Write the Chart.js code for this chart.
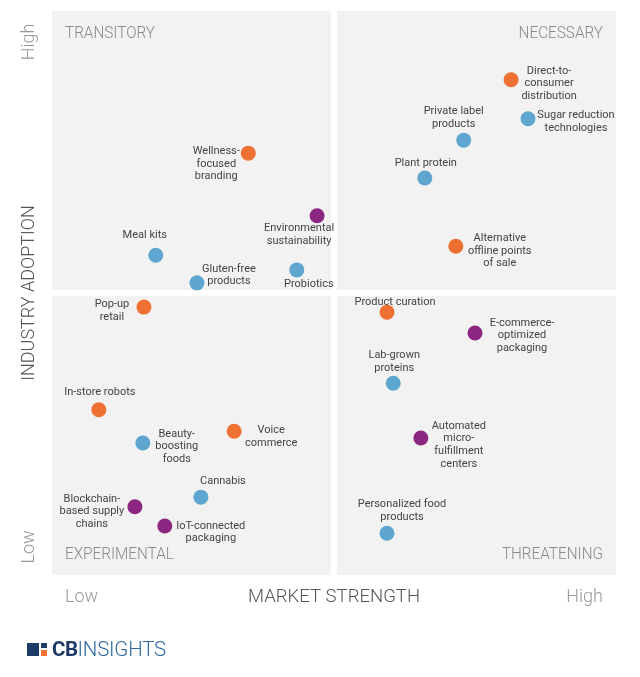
<!DOCTYPE html>
<html lang="en">
<head>
<meta charset="UTF-8">
<title>Food tech trends</title>
<style>
    body { margin: 0; background: #fff; }
    .wrap { position: relative; width: 640px; height: 677px; }
    .logo {
        position: absolute; left: 27px; top: 639px;
        display: flex; align-items: center;
        font-family: Roboto, sans-serif; font-size: 20.5px; line-height: 20px;
    }
    .icon { position: relative; width: 20px; height: 13px; background: #1d3a66; margin-right: 5px; }
    .icon .v { position: absolute; left: 12px; top: 0; width: 2px; height: 13px; background: #fff; }
    .icon .h { position: absolute; left: 14px; top: 5px; width: 6px; height: 2px; background: #fff; }
    .icon .o { position: absolute; left: 14px; top: 7px; width: 6px; height: 6px; background: #ee7033; }
    .cb { font-weight: 700; color: #1d3a66; letter-spacing: -0.5px; }
    .ins { font-weight: 300; color: #2f6aa3; letter-spacing: -0.2px; }
</style>
</head>
<body>
<div class="wrap">
    <canvas id="myChart" width="640" height="677"></canvas>
    <div class="logo"><div class="icon"><div class="v"></div><div class="h"></div><div class="o"></div></div><span class="cb">CB</span><span class="ins">INSIGHTS</span></div>
</div>

<script src="https://cdn.jsdelivr.net/npm/chart.js"></script>
<script>
    // data (0-100 on both axes)
    var trends = [
        'Wellness-\nfocused\nbranding', 'Environmental\nsustainability', 'Meal kits', 'Gluten-free\nproducts', 'Probiotics',
        'Direct-to-\nconsumer\ndistribution', 'Sugar reduction\ntechnologies', 'Private label\nproducts', 'Plant protein', 'Alternative\noffline points\nof sale',
        'Pop-up\nretail', 'In-store robots', 'Beauty-\nboosting\nfoods', 'Voice\ncommerce', 'Cannabis', 'Blockchain-\nbased supply\nchains', 'IoT-connected\npackaging',
        'Product curation', 'E-commerce-\noptimized\npackaging', 'Lab-grown\nproteins', 'Automated\nmicro-\nfulfillment\ncenters', 'Personalized food\nproducts'
    ];
    var marketStrength = [34.8, 47.0, 18.4, 25.7, 43.4, 81.4, 84.4, 73.0, 66.1, 71.6, 16.3, 8.3, 16.1, 32.3, 26.4, 14.7, 20.0, 59.4, 75.0, 60.5, 65.4, 59.4];
    var industryAdoption = [74.8, 63.7, 56.7, 51.8, 54.1, 87.8, 80.9, 77.1, 70.4, 58.3, 47.5, 29.3, 23.4, 25.5, 13.8, 12.1, 8.7, 46.6, 42.9, 34.0, 24.3, 7.4];
    var group = [0, 2, 1, 1, 1, 0, 1, 1, 1, 0, 0, 0, 1, 0, 1, 2, 2, 0, 2, 1, 2, 1];
    var quadrantNames = ['TRANSITORY', 'NECESSARY', 'EXPERIMENTAL', 'THREATENING'];

    var groupColors = ['#ee7033', '#5ea6cf', '#8b2681'];

    // label offset from the dot: [dx, dy of first line]
    var labelOffset = [
        [-32, -2], [-18, 13], [-11, -20], [32, -14], [12, 14],
        [38, -9], [48, -3], [-10, -29], [1, -15], [44, -8],
        [-32, -3], [1, -17], [34, -9], [37, -1], [22, -16], [-43, -8], [46, 0],
        [8, -10], [47, -10], [1, -28], [38, -12], [15, -29]
    ];

    var font = 'Roboto, sans-serif';

    // narrower text, the original uses a condensed face
    function condensedText(ctx, text, x, y, k) {
        ctx.save();
        ctx.translate(x, y);
        ctx.scale(k, 1);
        ctx.fillText(text, 0, 0);
        ctx.restore();
    }

    var quadrantPlugin = {
        id: 'quadrants',
        beforeDatasetsDraw: function (chart) {
            var ctx = chart.ctx, sx = chart.scales.x, sy = chart.scales.y;
            var x0 = sx.getPixelForValue(0), xm = sx.getPixelForValue(50), x1 = sx.getPixelForValue(100);
            var y0 = sy.getPixelForValue(100), ym = sy.getPixelForValue(50), y1 = sy.getPixelForValue(0);
            var g = 3;
            ctx.save();
            ctx.fillStyle = '#f2f2f2';
            ctx.fillRect(x0, y0, xm - g - x0, ym - g - y0);
            ctx.fillRect(xm + g, y0, x1 - xm - g, ym - g - y0);
            ctx.fillRect(x0, ym + g, xm - g - x0, y1 - ym - g);
            ctx.fillRect(xm + g, ym + g, x1 - xm - g, y1 - ym - g);

            ctx.fillStyle = '#8a8a8a';
            ctx.font = '300 17px ' + font;
            ctx.textBaseline = 'middle';
            ctx.textAlign = 'left';
            condensedText(ctx, quadrantNames[0], x0 + 13, y0 + 23, 0.9);
            condensedText(ctx, quadrantNames[2], x0 + 13, y1 - 20, 0.9);
            ctx.textAlign = 'right';
            condensedText(ctx, quadrantNames[1], x1 - 13, y0 + 23, 0.9);
            condensedText(ctx, quadrantNames[3], x1 - 13, y1 - 20, 0.9);
            ctx.restore();
        },
        afterDatasetsDraw: function (chart) {
            var ctx = chart.ctx;
            var pts = chart.getDatasetMeta(0).data;
            ctx.save();
            ctx.fillStyle = '#444';
            ctx.font = '11px ' + font;
            ctx.textAlign = 'center';
            ctx.textBaseline = 'middle';
            pts.forEach(function (p, i) {
                var lines = trends[i].split('\n');
                lines.forEach(function (line, j) {
                    ctx.fillText(line, p.x + labelOffset[i][0], p.y + labelOffset[i][1] + j * 12.7);
                });
            });

            // axis captions
            var sx = chart.scales.x, sy = chart.scales.y;
            ctx.font = '300 18px ' + font;
            ctx.fillStyle = '#555';
            condensedText(ctx, 'MARKET STRENGTH', sx.getPixelForValue(50), 597, 1.03);
            ctx.fillStyle = '#999';
            ctx.textAlign = 'left';
            ctx.fillText('Low', 65, 597);
            ctx.textAlign = 'right';
            ctx.fillText('High', 603, 597);

            ctx.translate(29, 0);
            ctx.rotate(-Math.PI / 2);
            ctx.textAlign = 'center';
            ctx.fillStyle = '#555';
            ctx.fillText('INDUSTRY ADOPTION', -sy.getPixelForValue(50), 0);
            ctx.fillStyle = '#999';
            ctx.fillText('High', -42, 0);
            ctx.fillText('Low', -547, 0);
            ctx.restore();
        }
    };

    var ctx = document.getElementById('myChart').getContext('2d');
    var myChart = new Chart(ctx, {
        type: 'scatter',
        data: {
            datasets: [{
                label: 'Trends',
                data: marketStrength.map(function (x, i) { return { x: x, y: industryAdoption[i] }; }),
                backgroundColor: group.map(function (g) { return groupColors[g]; }),
                borderWidth: 0,
                pointRadius: 7.5
            }]
        },
        options: {
            responsive: false,
            animation: false,
            layout: { padding: { left: 52, right: 24, top: 11, bottom: 102 } },
            scales: {
                x: { display: false, min: 0, max: 100 },
                y: { display: false, min: 0, max: 100 }
            },
            plugins: {
                legend: { display: false },
                tooltip: { enabled: false }
            }
        },
        plugins: [quadrantPlugin]
    });
</script>
</body>
</html>
